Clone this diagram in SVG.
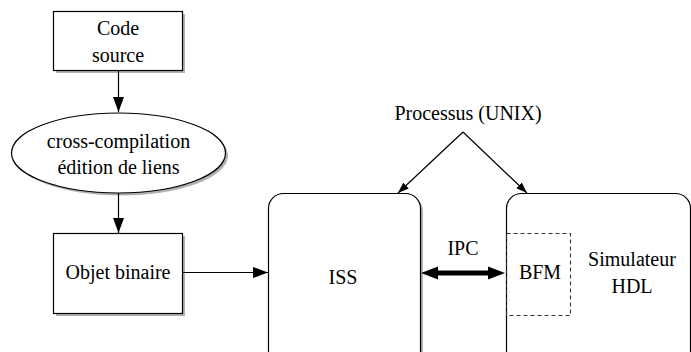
<svg xmlns="http://www.w3.org/2000/svg" width="691" height="352" viewBox="0 0 691 352">
<style>
text{font-family:"Liberation Serif","Times New Roman",serif;font-size:20px;fill:#000;text-anchor:middle}
.box{fill:#fff;stroke:#000;stroke-width:1.2}
.sh{fill:#b0b0b0;stroke:none}
.ln{stroke:#000;stroke-width:1.2;fill:none}
</style>
<defs>
<marker id="ah" viewBox="0 0 15 11" refX="15" refY="5.5" markerWidth="15" markerHeight="11" markerUnits="userSpaceOnUse" orient="auto">
<path d="M0,0 L15,5.5 L0,11 z" fill="#000"/>
</marker>
<marker id="ah2" viewBox="0 0 11 8" refX="11" refY="4" markerWidth="11" markerHeight="8" markerUnits="userSpaceOnUse" orient="auto">
<path d="M0,0 L11,4 L0,8 z" fill="#000"/>
</marker>
</defs>
<rect width="691" height="352" fill="#fff"/>
<g id="code-source">
<rect class="sh" x="56" y="14" width="129" height="59"/>
<rect class="box" x="53.5" y="11.5" width="129" height="59"/>
<text x="118" y="35">Code</text>
<text x="118" y="62">source</text>
</g>
<g id="compilation">
<ellipse class="sh" cx="121" cy="155.5" rx="107" ry="40"/>
<ellipse class="box" cx="118.5" cy="153" rx="107" ry="40"/>
<text x="118.5" y="148">cross-compilation</text>
<text x="118.5" y="174">édition de liens</text>
</g>
<g id="objet-binaire">
<rect class="sh" x="56" y="236" width="129" height="80"/>
<rect class="box" x="53.5" y="233.5" width="129" height="80"/>
<text x="118" y="279">Objet binaire</text>
</g>
<g id="iss">
<rect class="sh" x="271" y="196" width="152" height="200" rx="15"/>
<rect class="box" x="268.5" y="193.5" width="152" height="200" rx="15"/>
<text x="343" y="284">ISS</text>
</g>
<g id="simulateur">
<rect class="box" x="506.5" y="193.5" width="184" height="200" rx="15"/>
<rect x="506.5" y="233.5" width="64" height="82" fill="none" stroke="#333" stroke-width="1.1" stroke-dasharray="4,3"/>
<text x="540" y="279">BFM</text>
<text x="632" y="266">Simulateur</text>
<text x="632" y="293">HDL</text>
</g>
<g id="processus">
<text x="468" y="120">Processus (UNIX)</text>
</g>
<g id="ipc-label">
<text x="463" y="255">IPC</text>
</g>
<g id="connectors">
<line class="ln" x1="118.5" y1="71" x2="118.5" y2="112" marker-end="url(#ah)"/>
<line class="ln" x1="118.5" y1="193" x2="118.5" y2="233" marker-end="url(#ah)"/>
<line class="ln" x1="183" y1="272.5" x2="268" y2="272.5" marker-end="url(#ah)"/>
<line class="ln" x1="463" y1="132" x2="398" y2="193" marker-end="url(#ah2)"/>
<line class="ln" x1="463" y1="132" x2="527" y2="193" marker-end="url(#ah2)"/>
<path d="M421,273 L438,266.5 L438,270.5 L488,270.5 L488,266.5 L505,273 L488,279.5 L488,275.5 L438,275.5 L438,279.5 z" fill="#000"/>
</g>
</svg>
